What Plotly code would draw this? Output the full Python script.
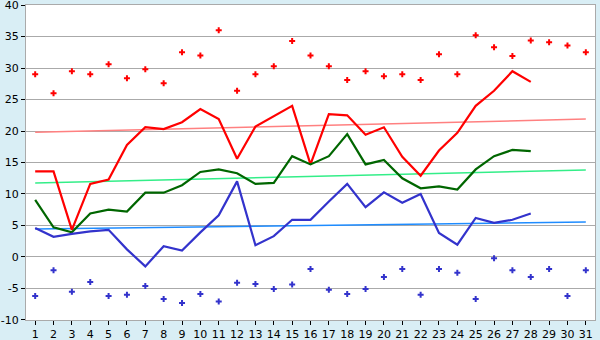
import plotly.graph_objects as go

days = list(range(1, 32))
max_abs = [29.0, 26.0, 29.5, 29.0, 30.6, 28.4, 29.8, 27.6, 32.5, 32.0,
           36.0, 26.4, 29.0, 30.3, 34.3, 32.0, 30.3, 28.1, 29.5, 28.7,
           29.0, 28.1, 32.2, 29.0, 35.2, 33.3, 31.9, 34.4, 34.1, 33.6, 32.5]
min_abs = [-6.2, -2.1, -5.55, -4.0, -6.2, -6.0, -4.6, -6.7, -7.3, -5.9,
           -7.1, -4.1, -4.3, -5.1, -4.4, -1.9, -5.2, -5.9, -5.1, -3.2,
           -1.9, -6.0, -1.9, -2.5, -6.7, -0.2, -2.1, -3.2, -1.9, -6.2, -2.1]
line_days = list(range(1, 29))
avg_max = [13.6, 13.6, 4.3, 11.6, 12.3, 17.8, 20.6, 20.3, 21.4, 23.5,
           21.9, 15.6, 20.7, 22.3, 24.0, 14.7, 22.7, 22.5, 19.4, 20.6,
           15.9, 12.9, 16.9, 19.7, 24.0, 26.4, 29.5, 27.8]
avg_mean = [9.05, 4.7, 3.9, 6.9, 7.5, 7.2, 10.2, 10.2, 11.4, 13.5,
            13.9, 13.3, 11.6, 11.75, 16.0, 14.7, 16.0, 19.5, 14.7, 15.4,
            12.5, 10.9, 11.2, 10.7, 13.9, 16.0, 17.0, 16.8]
avg_min = [4.6, 3.2, 3.65, 4.05, 4.3, 1.2, -1.5, 1.7, 1.0, 3.9,
           6.6, 12.0, 1.85, 3.3, 5.9, 5.9, 8.8, 11.6, 7.9, 10.25,
           8.6, 10.0, 3.8, 1.95, 6.2, 5.4, 5.9, 6.9]
trend_days = [1, 31]
trend_max = [19.8, 21.9]
trend_mean = [11.75, 13.8]
trend_min = [4.45, 5.55]
y_ticks = [-10, -5, 0, 5, 10, 15, 20, 25, 30, 35, 40]

fig = go.Figure()
fig.add_trace(go.Scatter(x=trend_days, y=trend_max, mode="lines", line=dict(color="#FF8080", width=1.5)))
fig.add_trace(go.Scatter(x=trend_days, y=trend_mean, mode="lines", line=dict(color="#33EE88", width=1.5)))
fig.add_trace(go.Scatter(x=trend_days, y=trend_min, mode="lines", line=dict(color="#1E8CFF", width=1.5)))
fig.add_trace(go.Scatter(x=line_days, y=avg_max, mode="lines", line=dict(color="#FF0000", width=2.2)))
fig.add_trace(go.Scatter(x=line_days, y=avg_mean, mode="lines", line=dict(color="#006600", width=2.2)))
fig.add_trace(go.Scatter(x=line_days, y=avg_min, mode="lines", line=dict(color="#3333CC", width=2.2)))
fig.add_trace(go.Scatter(x=days, y=max_abs, mode="markers",
                         marker=dict(symbol="cross", size=5, color="#FF0000", line=dict(width=0))))
fig.add_trace(go.Scatter(x=days, y=min_abs, mode="markers",
                         marker=dict(symbol="cross", size=5, color="#3333CC", line=dict(width=0))))

fig.update_layout(
    width=600, height=340,
    margin=dict(l=26, r=5, t=5, b=20),
    paper_bgcolor="#D9EEF5",
    plot_bgcolor="#FFFFFF",
    showlegend=False,
    font=dict(family="DejaVu Sans", size=11, color="#000000"),
)
fig.update_xaxes(range=[0.5, 31.5], tickmode="array", tickvals=days, ticktext=[str(d) for d in days],
                 showgrid=False, zeroline=False, ticks="outside", ticklen=4, tickcolor="#000000",
                 showline=True, linecolor="#AAAAAA", mirror=True, tickfont=dict(size=11),
                 ticklabeloverflow="allow", automargin=False)
fig.update_yaxes(range=[-10.02, 40.02], tickmode="array", tickvals=y_ticks,
                 ticktext=[str(v) for v in y_ticks], showgrid=True, gridcolor="#AAAAAA", gridwidth=1,
                 zeroline=False, ticks="outside", ticklen=4, tickcolor="#000000",
                 showline=True, linecolor="#AAAAAA", mirror=True, tickfont=dict(size=11),
                 ticklabeloverflow="allow", automargin=False)

fig.write_html("out.html")
